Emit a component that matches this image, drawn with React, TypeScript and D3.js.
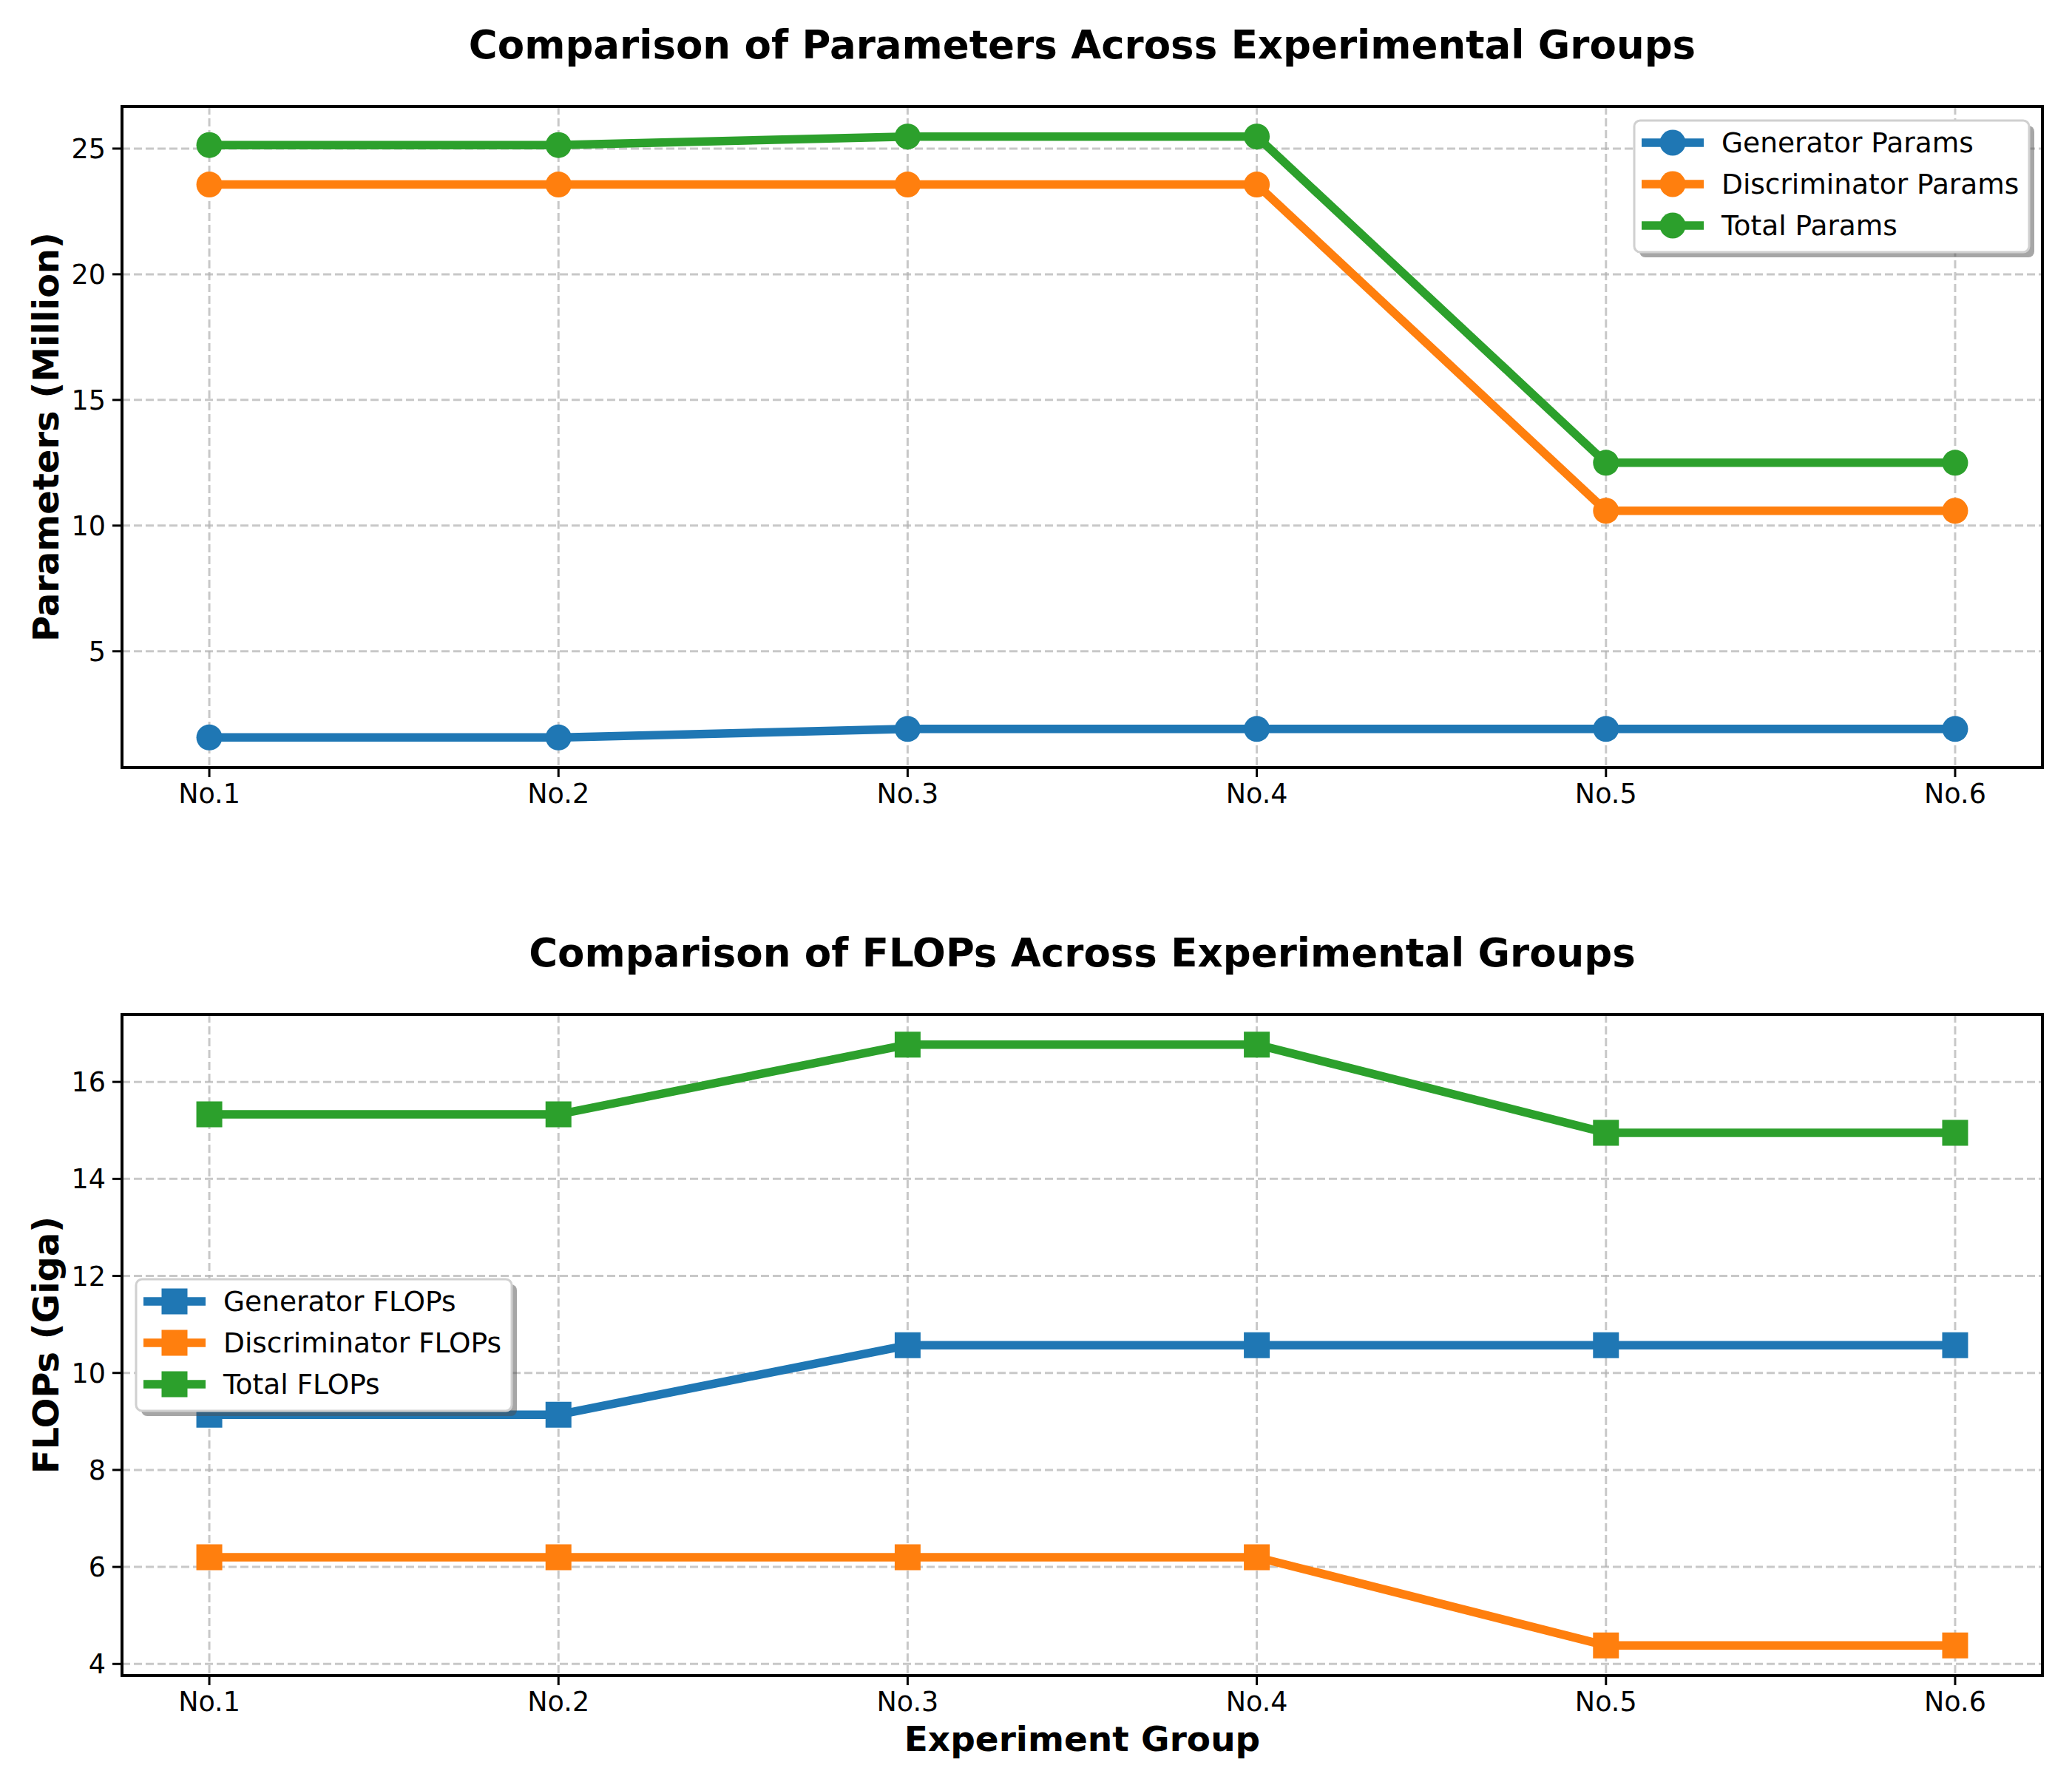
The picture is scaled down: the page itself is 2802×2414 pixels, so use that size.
import { useEffect, useRef } from "react";
import * as d3 from "d3";

const groups = ["No.1", "No.2", "No.3", "No.4", "No.5", "No.6"];

const genParams = [1.57, 1.57, 1.91, 1.91, 1.91, 1.91];
const discParams = [23.57, 23.57, 23.57, 23.57, 10.59, 10.59];
const totalParams = [25.14, 25.14, 25.48, 25.48, 12.5, 12.5];
const paramTicks = [5, 10, 15, 20, 25];

const genFlops = [9.14, 9.14, 10.57, 10.57, 10.57, 10.57];
const discFlops = [6.2, 6.2, 6.2, 6.2, 4.38, 4.38];
const totalFlops = [15.33, 15.33, 16.77, 16.77, 14.95, 14.95];
const flopTicks = [4, 6, 8, 10, 12, 14, 16];

const paramNames = ["Generator Params", "Discriminator Params", "Total Params"];
const flopNames = ["Generator FLOPs", "Discriminator FLOPs", "Total FLOPs"];
const colors = ["#1f77b4", "#ff7f0e", "#2ca02c"];

const W = 2802;
const H = 2414;
const left = 165;
const right = 2762;
const FONT = "DejaVu Sans";

const App = () => {
  const svgRef = useRef(null);

  useEffect(() => {
    const svg = d3.select(svgRef.current);
    svg.selectAll("*").remove();

    svg.append("rect").attr("width", W).attr("height", H).attr("fill", "#fff");

    const x = d3
      .scaleLinear()
      .domain([-0.25, groups.length - 1 + 0.25])
      .range([left, right]);

    const panels = [
      {
        top: 144,
        bottom: 1038,
        title: "Comparison of Parameters Across Experimental Groups",
        ylabel: "Parameters (Million)",
        series: [genParams, discParams, totalParams],
        names: paramNames,
        ticks: paramTicks,
        symbol: d3.symbolCircle,
        symSize: Math.PI * 17.5 * 17.5,
        legend: "upper right",
      },
      {
        top: 1372,
        bottom: 2266,
        title: "Comparison of FLOPs Across Experimental Groups",
        ylabel: "FLOPs (Giga)",
        series: [genFlops, discFlops, totalFlops],
        names: flopNames,
        ticks: flopTicks,
        symbol: d3.symbolSquare,
        symSize: 35 * 35,
        legend: "center left",
        xlabel: "Experiment Group",
      },
    ];

    panels.forEach((p) => {
      const all = p.series.flat();
      const lo = d3.min(all);
      const hi = d3.max(all);
      const pad = (hi - lo) * 0.05;
      const y = d3
        .scaleLinear()
        .domain([lo - pad, hi + pad])
        .range([p.bottom, p.top]);

      const g = svg.append("g");

      // grid
      g.selectAll(".gx")
        .data(groups)
        .enter()
        .append("line")
        .attr("x1", (_, i) => x(i))
        .attr("x2", (_, i) => x(i))
        .attr("y1", p.top)
        .attr("y2", p.bottom)
        .attr("stroke", "#b0b0b0")
        .attr("stroke-opacity", 0.7)
        .attr("stroke-width", 3)
        .attr("stroke-dasharray", "11,5");
      g.selectAll(".gy")
        .data(p.ticks)
        .enter()
        .append("line")
        .attr("x1", left)
        .attr("x2", right)
        .attr("y1", (d) => y(d))
        .attr("y2", (d) => y(d))
        .attr("stroke", "#b0b0b0")
        .attr("stroke-opacity", 0.7)
        .attr("stroke-width", 3)
        .attr("stroke-dasharray", "11,5");

      // lines + markers
      const line = d3
        .line<number>()
        .x((_, i) => x(i))
        .y((d) => y(d));
      const sym = d3.symbol().type(p.symbol).size(p.symSize);

      p.series.forEach((s, k) => {
        g.append("path")
          .datum(s)
          .attr("fill", "none")
          .attr("stroke", colors[k])
          .attr("stroke-width", 11.5)
          .attr("stroke-linejoin", "round")
          .attr("d", line);
        g.selectAll(".m" + k)
          .data(s)
          .enter()
          .append("path")
          .attr("d", sym)
          .attr("transform", (d, i) => `translate(${x(i)},${y(d)})`)
          .attr("fill", colors[k]);
      });

      // spines
      g.append("rect")
        .attr("x", left)
        .attr("y", p.top)
        .attr("width", right - left)
        .attr("height", p.bottom - p.top)
        .attr("fill", "none")
        .attr("stroke", "#000")
        .attr("stroke-width", 4);

      // x ticks
      groups.forEach((lab, i) => {
        g.append("line")
          .attr("x1", x(i))
          .attr("x2", x(i))
          .attr("y1", p.bottom)
          .attr("y2", p.bottom + 13)
          .attr("stroke", "#000")
          .attr("stroke-width", 3);
        g.append("text")
          .attr("x", x(i))
          .attr("y", p.bottom + 48)
          .attr("text-anchor", "middle")
          .attr("font-family", FONT)
          .attr("font-size", 36.5)
          .text(lab);
      });

      // y ticks
      p.ticks.forEach((t) => {
        g.append("line")
          .attr("x1", left - 13)
          .attr("x2", left)
          .attr("y1", y(t))
          .attr("y2", y(t))
          .attr("stroke", "#000")
          .attr("stroke-width", 3);
        g.append("text")
          .attr("x", left - 22)
          .attr("y", y(t) + 13)
          .attr("text-anchor", "end")
          .attr("font-family", FONT)
          .attr("font-size", 36.5)
          .text(t);
      });

      // title
      g.append("text")
        .attr("x", (left + right) / 2)
        .attr("y", p.top - 65)
        .attr("text-anchor", "middle")
        .attr("font-family", FONT)
        .attr("font-weight", "bold")
        .attr("font-size", 53)
        .text(p.title);

      // y label
      g.append("text")
        .attr("transform", `translate(79,${(p.top + p.bottom) / 2}) rotate(-90)`)
        .attr("text-anchor", "middle")
        .attr("font-family", FONT)
        .attr("font-weight", "bold")
        .attr("font-size", 48)
        .text(p.ylabel);

      if (p.xlabel) {
        g.append("text")
          .attr("x", (left + right) / 2)
          .attr("y", p.bottom + 102)
          .attr("text-anchor", "middle")
          .attr("font-family", FONT)
          .attr("font-weight", "bold")
          .attr("font-size", 47)
          .text(p.xlabel);
      }

      // legend
      const lw = p.legend === "upper right" ? 534 : 508;
      const lh = 178;
      const lx = p.legend === "upper right" ? right - 18 - lw : left + 19;
      const ly =
        p.legend === "upper right" ? p.top + 19 : (p.top + p.bottom) / 2 - lh / 2;
      const lg = g.append("g").attr("transform", `translate(${lx},${ly})`);
      lg.append("rect")
        .attr("x", 7)
        .attr("y", 7)
        .attr("width", lw)
        .attr("height", lh)
        .attr("rx", 8)
        .attr("fill", "#4d4d4d")
        .attr("opacity", 0.5);
      lg.append("rect")
        .attr("width", lw)
        .attr("height", lh)
        .attr("rx", 8)
        .attr("fill", "#fff")
        .attr("stroke", "#d0d0d0")
        .attr("stroke-width", 3);
      p.names.forEach((name, k) => {
        const cy = 30 + k * 56;
        lg.append("line")
          .attr("x1", 10)
          .attr("x2", 94)
          .attr("y1", cy)
          .attr("y2", cy)
          .attr("stroke", colors[k])
          .attr("stroke-width", 11.5);
        lg.append("path")
          .attr("d", sym)
          .attr("transform", `translate(52,${cy})`)
          .attr("fill", colors[k]);
        lg.append("text")
          .attr("x", 118)
          .attr("y", cy + 13)
          .attr("font-family", FONT)
          .attr("font-size", 37.5)
          .text(name);
      });
    });
  }, []);

  return (
    <svg
      ref={svgRef}
      width={W}
      height={H}
      style={{ position: "absolute", left: 0, top: 0 }}
    ></svg>
  );
};

export default App;
